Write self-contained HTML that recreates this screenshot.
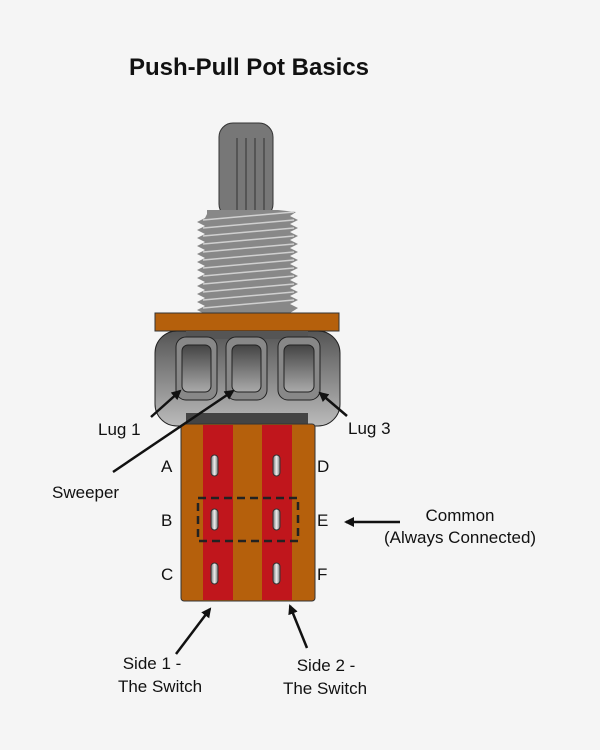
<!DOCTYPE html>
<html><head><style>
html,body{margin:0;padding:0;background:#f5f5f5;}
svg{display:block;font-family:"Liberation Sans",sans-serif;}
</style></head><body>
<svg width="600" height="750" viewBox="0 0 600 750" xmlns="http://www.w3.org/2000/svg">
<defs>
<linearGradient id="hg" x1="0" y1="0" x2="0" y2="1"><stop offset="0" stop-color="#555"/><stop offset="1" stop-color="#bbb"/></linearGradient>
<linearGradient id="lg" x1="0" y1="0" x2="0" y2="1"><stop offset="0" stop-color="#444"/><stop offset="1" stop-color="#aaa"/></linearGradient>
<linearGradient id="pg" x1="0" y1="0" x2="1" y2="0"><stop offset="0" stop-color="#777"/><stop offset="0.5" stop-color="#eee"/><stop offset="1" stop-color="#777"/></linearGradient>
<marker id="ah" markerWidth="10" markerHeight="10" refX="8" refY="5" orient="auto" markerUnits="userSpaceOnUse"><path d="M0,0 L10,5 L0,10 Z" fill="#111"/></marker>
</defs>
<rect width="600" height="750" fill="#f5f5f5"/>
<text x="249" y="75" font-size="24" font-weight="bold" text-anchor="middle" fill="#111">Push-Pull Pot Basics</text>
<!-- shaft -->
<rect x="219" y="123" width="54" height="95" rx="14" fill="#777" stroke="#333" stroke-width="1"/>
<g stroke="#333" stroke-width="1"><line x1="237" y1="138" x2="237" y2="210"/><line x1="246" y1="138" x2="246" y2="210"/><line x1="255" y1="138" x2="255" y2="210"/><line x1="264" y1="138" x2="264" y2="210"/></g>
<!-- threads -->
<path fill="#888" d="M207,210 L278,210 L296,212
L290,216 L298,220 L290,224 L298,228 L290,232 L298,236 L290,240 L298,244 L290,248 L298,252 L290,256 L298,260 L290,264 L298,268 L290,272 L298,276 L290,280 L298,284 L290,288 L298,292 L290,296 L298,300 L290,304 L298,308 L290,313
L203,313
L197,310 L205,306 L197,302 L205,298 L197,294 L205,290 L197,286 L205,282 L197,278 L205,274 L197,270 L205,266 L197,262 L205,258 L197,254 L205,250 L197,246 L205,242 L197,238 L205,234 L197,230 L205,226 L197,222 L205,218 L207,214 Z"/>
<g stroke="#d0d0d0" stroke-width="1.5">
<line x1="203" y1="220" x2="294" y2="212"/><line x1="203" y1="228" x2="294" y2="220"/><line x1="203" y1="236" x2="294" y2="228"/><line x1="203" y1="244" x2="294" y2="236"/><line x1="203" y1="252" x2="294" y2="244"/><line x1="203" y1="260" x2="294" y2="252"/><line x1="203" y1="268" x2="294" y2="260"/><line x1="203" y1="276" x2="294" y2="268"/><line x1="203" y1="284" x2="294" y2="276"/><line x1="203" y1="292" x2="294" y2="284"/><line x1="203" y1="300" x2="294" y2="292"/><line x1="203" y1="308" x2="294" y2="300"/>
</g>
<!-- plate -->
<rect x="155" y="313" width="184" height="18" fill="#b5600c" stroke="#333"/>
<!-- housing -->
<rect x="155" y="331" width="185" height="95" rx="22" fill="url(#hg)" stroke="#222"/>
<rect x="186" y="331" width="122" height="8" fill="#555"/>
<g stroke="#222">
<rect x="176" y="337" width="41" height="63" rx="10" fill="#888"/><rect x="182" y="345" width="29" height="47" rx="6" fill="url(#lg)"/>
<rect x="226" y="337" width="41" height="63" rx="10" fill="#888"/><rect x="232" y="345" width="29" height="47" rx="6" fill="url(#lg)"/>
<rect x="278" y="337" width="42" height="63" rx="10" fill="#888"/><rect x="284" y="345" width="30" height="47" rx="6" fill="url(#lg)"/>
</g>
<rect x="186" y="413" width="122" height="12" fill="#444"/>
<!-- body -->
<rect x="181" y="424" width="134" height="177" rx="3" fill="#b5600c" stroke="#333"/>
<rect x="203" y="425" width="30" height="175" fill="#c0161c"/>
<rect x="262" y="425" width="30" height="175" fill="#c0161c"/>
<g fill="url(#pg)" stroke="#333">
<rect x="211" y="455" width="7" height="21" rx="3.5"/><rect x="273" y="455" width="7" height="21" rx="3.5"/>
<rect x="211" y="509" width="7" height="21" rx="3.5"/><rect x="273" y="509" width="7" height="21" rx="3.5"/>
<rect x="211" y="563" width="7" height="21" rx="3.5"/><rect x="273" y="563" width="7" height="21" rx="3.5"/>
</g>
<rect x="198" y="498" width="100" height="43" fill="none" stroke="#222" stroke-width="2.5" stroke-dasharray="8,5"/>
<!-- letters -->
<g font-size="17" fill="#111">
<text x="161" y="472">A</text><text x="161" y="526">B</text><text x="161" y="580">C</text>
<text x="317" y="472">D</text><text x="317" y="526">E</text><text x="317" y="580">F</text>
</g>
<!-- arrows -->
<g stroke="#111" stroke-width="2.5" marker-end="url(#ah)">
<line x1="151" y1="417" x2="180" y2="391"/>
<line x1="113" y1="472" x2="233" y2="391"/>
<line x1="347" y1="416" x2="320" y2="393"/>
<line x1="400" y1="522" x2="346" y2="522"/>
<line x1="176" y1="654" x2="210" y2="609"/>
<line x1="307" y1="648" x2="290" y2="606"/>
</g>
<g font-size="17" fill="#111">
<text x="98" y="435">Lug 1</text>
<text x="348" y="434">Lug 3</text>
<text x="52" y="498">Sweeper</text>
<text x="460" y="521" text-anchor="middle">Common</text>
<text x="460" y="543" text-anchor="middle">(Always Connected)</text>
<text x="152" y="669" text-anchor="middle">Side 1 -</text>
<text x="160" y="692" text-anchor="middle">The Switch</text>
<text x="326" y="671" text-anchor="middle">Side 2 -</text>
<text x="325" y="694" text-anchor="middle">The Switch</text>
</g>
</svg>
</body></html>
